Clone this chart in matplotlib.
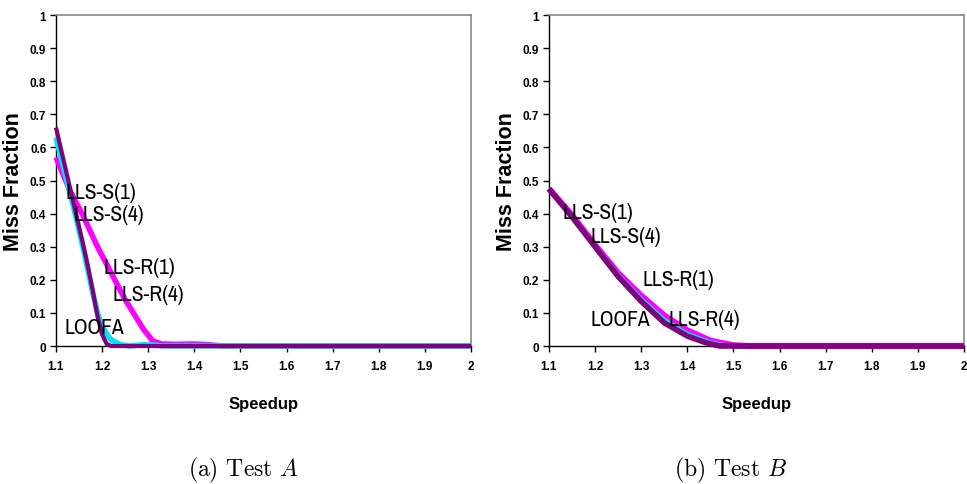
import matplotlib
matplotlib.use("Agg")
import matplotlib.pyplot as plt
from matplotlib import font_manager

# pick a narrow sans face if one is installed, else plain Liberation Sans
narrow, narrow_size = "Liberation Sans", 12.5
for f in font_manager.fontManager.ttflist:
    if ("Narrow" in f.name or "Condensed" in f.name) and "Serif" not in f.name and "Mono" not in f.name:
        narrow, narrow_size = f.name, 15.5
        break

# Test A curves (speedup, miss fraction)
a_loofa_x = [1.10, 1.12, 1.14, 1.16, 1.18, 1.19, 1.20, 1.21, 1.22, 2.00]
a_loofa_y = [0.65, 0.53, 0.415, 0.295, 0.16, 0.085, 0.035, 0.008, 0.0, 0.0]
a_llsr_x = [1.10, 1.13, 1.16, 1.19, 1.22, 1.25, 1.27, 1.29, 1.31, 1.33, 1.36, 1.40, 1.43, 1.46, 2.00]
a_llsr_y = [0.57, 0.47, 0.39, 0.30, 0.22, 0.14, 0.095, 0.05, 0.015, 0.006, 0.005, 0.006, 0.004, 0.0, 0.0]
a_llss4_x = [1.10, 1.12, 1.14, 1.16, 1.18, 1.19, 1.20, 1.21, 1.22, 1.24, 1.26, 1.29, 1.31, 1.33, 2.00]
a_llss4_y = [0.63, 0.52, 0.41, 0.29, 0.16, 0.10, 0.06, 0.035, 0.018, 0.004, 0.0, 0.004, 0.003, 0.0, 0.0]
a_llss1_x = [1.10, 1.12, 1.14, 1.16, 1.17, 1.18, 1.19, 1.20, 1.21, 1.22, 2.00]
a_llss1_y = [0.66, 0.54, 0.42, 0.30, 0.235, 0.165, 0.09, 0.035, 0.006, 0.0, 0.0]

# Test B curves
b_loofa_x = [1.10, 1.15, 1.20, 1.25, 1.30, 1.35, 1.40, 1.44, 1.47, 2.00]
b_loofa_y = [0.475, 0.39, 0.30, 0.21, 0.135, 0.07, 0.03, 0.01, 0.0, 0.0]
b_llsr_x = [1.10, 1.15, 1.20, 1.25, 1.30, 1.35, 1.40, 1.45, 1.50, 1.53, 2.00]
b_llsr_y = [0.475, 0.395, 0.305, 0.22, 0.152, 0.092, 0.047, 0.016, 0.002, 0.0, 0.0]
b_llss4_x = [1.10, 1.15, 1.20, 1.25, 1.30, 1.35, 1.40, 1.45, 1.49, 2.00]
b_llss4_y = [0.475, 0.392, 0.302, 0.215, 0.142, 0.08, 0.037, 0.011, 0.0, 0.0]
b_llss1_x = [1.10, 1.15, 1.20, 1.25, 1.30, 1.35, 1.40, 1.45, 1.50, 2.00]
b_llss1_y = [0.475, 0.39, 0.30, 0.21, 0.135, 0.07, 0.03, 0.008, 0.0, 0.0]

labels = ["LLS-S(1)", "LLS-S(4)", "LLS-R(1)", "LLS-R(4)", "LOOFA"]
a_label_x = [1.1217, 1.137, 1.202, 1.2215, 1.1195]
a_label_y = [0.465, 0.399, 0.239, 0.157, 0.057]
b_label_x = [1.130, 1.189, 1.302, 1.360, 1.189]
b_label_y = [0.405, 0.332, 0.202, 0.082, 0.082]

xticks = [1.1, 1.2, 1.3, 1.4, 1.5, 1.6, 1.7, 1.8, 1.9, 2.0]
xticklabels = ["1.1", "1.2", "1.3", "1.4", "1.5", "1.6", "1.7", "1.8", "1.9", "2"]
yticks = [0, 0.1, 0.2, 0.3, 0.4, 0.5, 0.6, 0.7, 0.8, 0.9, 1]
yticklabels = ["0", "0.1", "0.2", "0.3", "0.4", "0.5", "0.6", "0.7", "0.8", "0.9", "1"]

plt.rcParams["font.family"] = "Liberation Sans"
plt.rcParams["mathtext.fontset"] = "cm"

fig = plt.figure(figsize=(9.67, 4.85), dpi=100)
ax_a = fig.add_axes([0.0579, 0.2845, 0.4292, 0.6825])
ax_b = fig.add_axes([0.5677, 0.2845, 0.4292, 0.6825])


def draw(ax, series, lab_x, lab_y):
    for x, y, color, lw in series:
        ax.plot(x, y, color=color, lw=lw, solid_capstyle="butt", clip_on=False, zorder=3)
    for t, tx, ty in zip(labels, lab_x, lab_y):
        ax.text(tx, ty, t, fontsize=narrow_size, family=narrow, ha="left", va="center", zorder=4)
    ax.set_xlim(1.1, 2.0)
    ax.set_ylim(0, 1)
    ax.set_xticks(xticks)
    ax.set_xticklabels(xticklabels, fontsize=8.5, fontweight="bold")
    ax.set_yticks(yticks)
    ax.set_yticklabels(yticklabels, fontsize=8.5, fontweight="bold")
    ax.tick_params(direction="out", length=4, width=1, pad=6)
    ax.tick_params(axis="y", pad=3)
    for side in ["top", "right"]:
        ax.spines[side].set_color("#888888")
        ax.spines[side].set_linewidth(1.2)
    for side in ["left", "bottom"]:
        ax.spines[side].set_color("black")
        ax.spines[side].set_linewidth(1)
    ax.set_xlabel("Speedup", fontsize=12, fontweight="bold", labelpad=17)
    ax.set_ylabel("Miss Fraction", fontsize=15.5, fontweight="bold", labelpad=4)


draw(ax_a, [
    (a_llsr_x, a_llsr_y, "#ff00ff", 4),
    (a_llss4_x, a_llss4_y, "#00e5ee", 4),
    (a_loofa_x, a_loofa_y, "#1a1a6e", 1),
    (a_llss1_x, a_llss1_y, "#800080", 3),
], a_label_x, a_label_y)

draw(ax_b, [
    (b_llsr_x, b_llsr_y, "#ff00ff", 4.5),
    (b_llss4_x, b_llss4_y, "#00e5ee", 3),
    (b_loofa_x, b_loofa_y, "#800080", 4),
    (b_llss1_x, b_llss1_y, "#7a0a7a", 2),
], b_label_x, b_label_y)

fig.text(0.252, 0.031, r"(a) Test $A$", fontsize=17, family="cmr10", ha="center", va="center")
fig.text(0.755, 0.031, r"(b) Test $B$", fontsize=17, family="cmr10", ha="center", va="center")

fig.savefig("out.png", dpi=100)
